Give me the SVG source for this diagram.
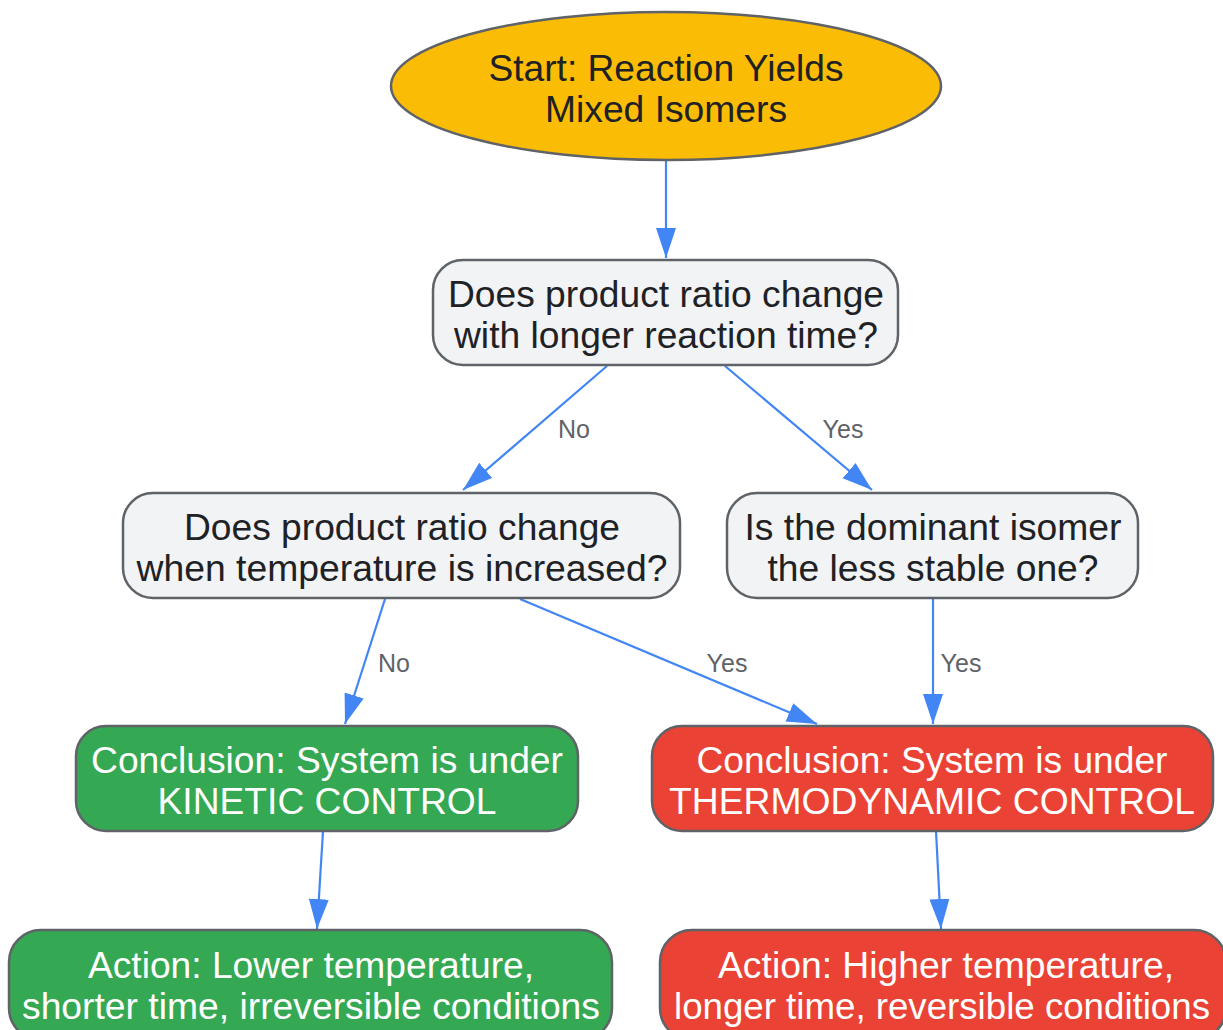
<svg xmlns="http://www.w3.org/2000/svg" width="1223" height="1030" viewBox="0 0 1223 1030">
<style>
.node{stroke:#5f6368;stroke-width:2.5}
.t{font-family:"Liberation Sans",Arial,sans-serif;font-size:36px;text-anchor:middle;fill:#202124}
.w{fill:#ffffff}
.e{fill:none;stroke:#4285F4;stroke-width:2.2}
.l{font-family:"Liberation Sans",Arial,sans-serif;font-size:25px;text-anchor:middle;fill:#5f6368}
</style>
<defs>
<marker id="ah" markerUnits="userSpaceOnUse" markerWidth="32" markerHeight="22" refX="30" refY="10" orient="auto">
<path d="M0,0 L30,10 L0,20 z" fill="#4285F4"/>
</marker>
</defs>
<rect width="1223" height="1030" fill="#ffffff"/>
<g id="connectors">
<path class="e" d="M666,160 L666,258" marker-end="url(#ah)"/>
<path class="e" d="M607,366 L463,490" marker-end="url(#ah)"/>
<path class="e" d="M725,366 L872,490" marker-end="url(#ah)"/>
<path class="e" d="M385,599 L345,724" marker-end="url(#ah)"/>
<path class="e" d="M520,599 L817,724" marker-end="url(#ah)"/>
<path class="e" d="M933,599 L933,724" marker-end="url(#ah)"/>
<path class="e" d="M323,831 L317,929" marker-end="url(#ah)"/>
<path class="e" d="M936,831 L941,929" marker-end="url(#ah)"/>
<text class="l" x="574" y="438">No</text>
<text class="l" x="843" y="438">Yes</text>
<text class="l" x="394" y="672">No</text>
<text class="l" x="727" y="672">Yes</text>
<text class="l" x="961" y="672">Yes</text>
</g>
<g id="start">
<ellipse class="node" cx="666" cy="86" rx="275" ry="74" fill="#FBBC05"/>
<text class="t" x="666" y="81" textLength="355" lengthAdjust="spacingAndGlyphs">Start: Reaction Yields</text>
<text class="t" x="666" y="122" textLength="242" lengthAdjust="spacingAndGlyphs">Mixed Isomers</text>
</g>
<g id="q1">
<rect class="node" x="433" y="260" width="465" height="105" rx="30" fill="#F1F3F4"/>
<text class="t" x="666" y="307" textLength="436" lengthAdjust="spacingAndGlyphs">Does product ratio change</text>
<text class="t" x="666" y="348" textLength="424" lengthAdjust="spacingAndGlyphs">with longer reaction time?</text>
</g>
<g id="q2">
<rect class="node" x="123" y="493" width="557" height="105" rx="30" fill="#F1F3F4"/>
<text class="t" x="402" y="540" textLength="436" lengthAdjust="spacingAndGlyphs">Does product ratio change</text>
<text class="t" x="402" y="581" textLength="531" lengthAdjust="spacingAndGlyphs">when temperature is increased?</text>
</g>
<g id="q3">
<rect class="node" x="727" y="493" width="411" height="105" rx="30" fill="#F1F3F4"/>
<text class="t" x="933" y="540" textLength="377" lengthAdjust="spacingAndGlyphs">Is the dominant isomer</text>
<text class="t" x="933" y="581" textLength="331" lengthAdjust="spacingAndGlyphs">the less stable one?</text>
</g>
<g id="kinetic">
<rect class="node" x="76" y="726" width="502" height="105" rx="30" fill="#34A853"/>
<text class="t w" x="327" y="773" textLength="472" lengthAdjust="spacingAndGlyphs">Conclusion: System is under</text>
<text class="t w" x="327" y="814" textLength="339" lengthAdjust="spacingAndGlyphs">KINETIC CONTROL</text>
</g>
<g id="thermo">
<rect class="node" x="652" y="726" width="561" height="105" rx="30" fill="#EA4335"/>
<text class="t w" x="932" y="773" textLength="471" lengthAdjust="spacingAndGlyphs">Conclusion: System is under</text>
<text class="t w" x="932" y="814" textLength="526" lengthAdjust="spacingAndGlyphs">THERMODYNAMIC CONTROL</text>
</g>
<g id="action-kinetic">
<rect class="node" x="9" y="930" width="603" height="110" rx="32" fill="#34A853"/>
<text class="t w" x="311" y="978" textLength="446" lengthAdjust="spacingAndGlyphs">Action: Lower temperature,</text>
<text class="t w" x="311" y="1019" textLength="578" lengthAdjust="spacingAndGlyphs">shorter time, irreversible conditions</text>
</g>
<g id="action-thermo">
<rect class="node" x="660" y="930" width="566" height="110" rx="32" fill="#EA4335"/>
<text class="t w" x="946" y="978" textLength="456" lengthAdjust="spacingAndGlyphs">Action: Higher temperature,</text>
<text class="t w" x="942" y="1019" textLength="536" lengthAdjust="spacingAndGlyphs">longer time, reversible conditions</text>
</g>
</svg>
